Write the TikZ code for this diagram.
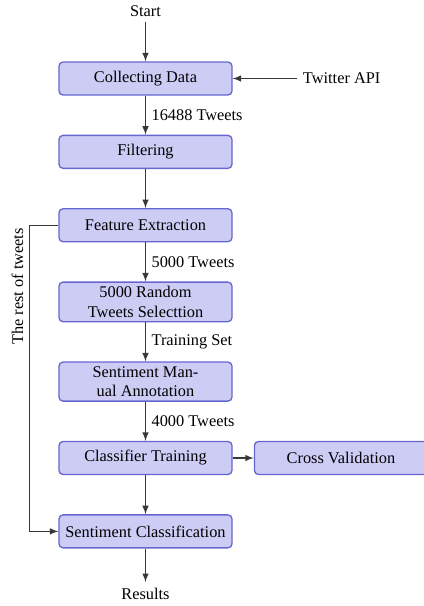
\documentclass[tikz,border=0pt]{standalone}
\usepackage{fontspec}
\setmainfont{Liberation Serif}
\usepackage{tikz}
\usetikzlibrary{shapes,arrows,positioning,calc}
\usepackage{xcolor}
\definecolor{boxfill}{rgb}{0.80,0.80,0.96}
\definecolor{boxline}{rgb}{0.40,0.40,0.82}
\definecolor{linkgray}{rgb}{0.22,0.22,0.22}

\begin{document}
\begin{tikzpicture}[x=0.612pt,y=0.612pt,
    node distance=23.9pt,
    stage/.style={draw=boxline, fill=boxfill, thick, rounded corners=2.5pt,
        minimum width=105.9pt, minimum height=20.2pt, inner ysep=2.6pt, align=center},
    link/.style={->, >=latex, thick, draw=linkgray},
    tag/.style={font=\normalsize}]
    \useasboundingbox (0,0) rectangle (424,-606);
    % main chain
    \node[stage] (collect) at (145.5,-78.5) {Collecting Data};
    \node[tag, above=of collect] (start) {Start};
    \node[tag, right=39.5pt of collect] (api) {Twitter API};
    \node[stage, below=of collect] (filter) {Filtering};
    \node[stage, below=of filter] (feature) {Feature Extraction};
    \node[stage, below=of feature] (random) {5000 Random\\Tweets Selecttion};
    \node[stage, below=of random] (manual) {Sentiment Man-\\ual Annotation};
    \node[stage, below=of manual] (train) {Classifier Training};
    \node[stage, right=12.9pt of train] (cross) {Cross Validation};
    \node[stage, below=of train] (classify) {Sentiment Classification};
    \node[tag, below=20.5pt of classify] (results) {Results};
    % connectors
    \draw[link] (start) -- (collect);
    \draw[link] (api) -- (collect);
    \draw[link] (collect) -- node[right]{16488 Tweets} (filter);
    \draw[link] (filter) -- (feature);
    \draw[link] (feature) -- node[right]{5000 Tweets} (random);
    \draw[link] (random) -- node[right]{Training Set} (manual);
    \draw[link] (manual) -- node[right]{4000 Tweets} (train);
    \draw[link] (train) -- (cross);
    \draw[link] (train) -- (classify);
    \draw[link] (classify) -- (results);
    % bypass for the remaining tweets
    \draw[link] (feature.west) -- ++(-29,0) coordinate (bend)
        -- node[pos=0.2, rotate=90, anchor=south]{The rest of tweets} (bend |- classify.west)
        -- (classify.west);
\end{tikzpicture}
\end{document}
